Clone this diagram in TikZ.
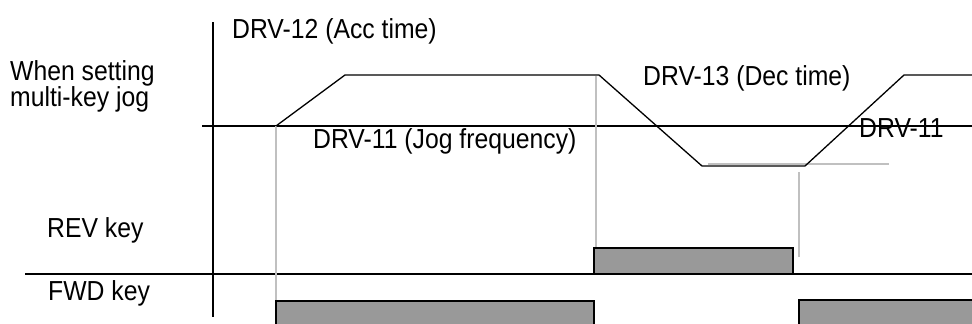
\documentclass[tikz,border=0pt]{standalone}
\usepackage{fontspec}
\setmainfont{Liberation Sans}[FakeStretch=0.9]
\definecolor{guidegray}{RGB}{192,192,192}
\definecolor{keyfill}{RGB}{153,153,153}
\tikzset{
  lbl/.style={anchor=base west, inner sep=0pt, font=\fontsize{27.5}{30}\selectfont},
  axisline/.style={line width=2pt},
  wave/.style={line width=1.3pt},
  guide/.style={draw=guidegray, line width=1.3pt},
  keybox/.style={draw=black, fill=keyfill, line width=1.3pt}
}

\begin{document}
\begin{tikzpicture}[x=1pt, y=-1pt]
  \clip (0,0) rectangle (972,324);
  % axes
  \draw[axisline] (213,22) -- (213,317);
  \draw[wave] (202,126) -- (972,126);
  \draw[axisline] (25,274) -- (972,274);
  % guide lines
  \draw[guide] (276,126) -- (276,301);
  \draw[guide] (596,76) -- (596,248);
  \draw[guide] (799,172) -- (799,257);
  \draw[guide] (708,164) -- (889,164);
  % jog frequency
  \draw[wave] (276,126) -- (345,75) -- (599,75) -- (702,166) -- (805,166) -- (904,75) -- (976,75);
  % key signals
  \draw[keybox] (594,248) rectangle (793,274);
  \draw[keybox] (276,301) rectangle (594,330);
  \draw[keybox] (799,300) rectangle (980,330);
  % labels
  \node[lbl] (acc) at (232,38) {DRV-12 (Acc time)};
  \node[lbl] (when) at (10,80) {When setting};
  \node[lbl] (multi) at (10,106) {multi-key jog};
  \node[lbl] (jog) at (313,148) {DRV-11 (Jog frequency)};
  \node[lbl] (dec) at (643,85) {DRV-13 (Dec time)};
  \node[lbl] (jogrev) at (859,137) {DRV-11};
  \node[lbl] (rev) at (47,237) {REV key};
  \node[lbl] (fwd) at (48,300) {FWD key};
\end{tikzpicture}
\end{document}
